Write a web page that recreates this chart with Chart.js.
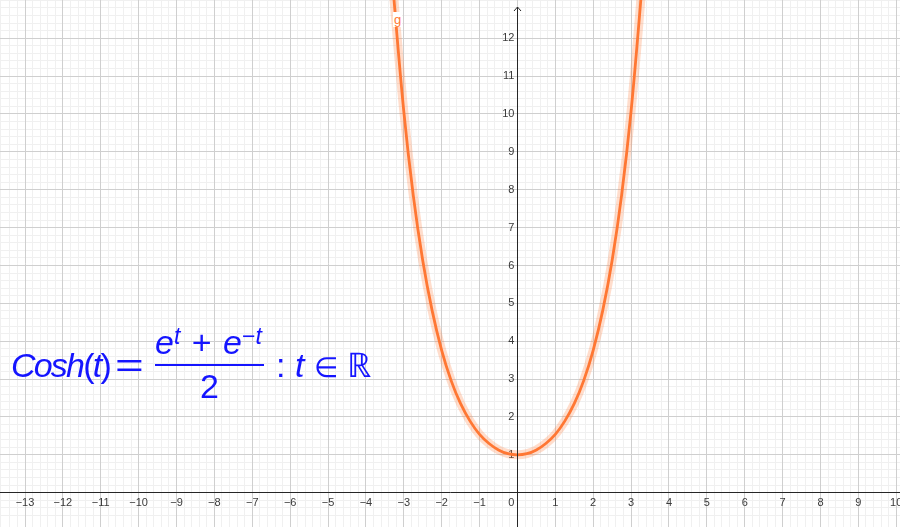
<!DOCTYPE html>
<html>
<head>
<meta charset="utf-8">
<title>Cosh(t)</title>
<script src="https://cdn.jsdelivr.net/npm/chart.js@4.4.1/dist/chart.umd.min.js"></script>
<style>
  html, body { margin: 0; padding: 0; background: #fff; }
  #wrap { position: relative; width: 900px; height: 527px; overflow: hidden; }
  #plot { position: absolute; left: 0; top: 0; }
  .fn-name { position: absolute; left: 393px; top: 12px; padding: 0 1px; line-height: 14px; background: #fff; font: 13px "Liberation Sans", Arial, sans-serif; color: #ff7733; }
  .tex { position: absolute; color: #1515ff; font-family: "Liberation Sans", Arial, sans-serif; font-size: 34px; line-height: 36px; white-space: nowrap; }
  .tex sup { font-size: 23px; line-height: 0; vertical-align: 10px; }
  .bar { position: absolute; background: #1515ff; height: 2px; }
</style>
</head>
<body>
<div id="wrap">
  <canvas id="plot" width="900" height="527"></canvas>
  <div class="fn-name">g</div>
  <div class="tex" style="left:11px; top:347px; letter-spacing:-1.8px;"><i>Cosh</i>(<i>t</i>)</div>
  <div class="tex" style="left:115px; top:347px; transform:scaleX(1.45); transform-origin:left;">=</div>
  <div class="tex" style="left:155px; top:324px; word-spacing:2px;"><i>e</i><sup><i>t</i></sup> + <i>e</i><sup>&minus;<i>t</i></sup></div>
  <div class="bar" style="left:155px; top:364px; width:109px;"></div>
  <div class="tex" style="left:200px; top:368px;">2</div>
  <div class="tex" style="left:276px; top:347px;">: <i>t</i> <span style="font-size:28px;">&isin;</span> &#8477;</div>
</div>
<script>
(function() {
  'use strict';

  // visible window of the graphics view
  const xMin = -13.66, xMax = 10.1;
  const yMin = -0.906, yMax = 13.01;

  // tick labels on the axes
  const xTickValues = [-13, -12, -11, -10, -9, -8, -7, -6, -5, -4, -3, -2, -1, 0, 1, 2, 3, 4, 5, 6, 7, 8, 9, 10];
  const yTickValues = [1, 2, 3, 4, 5, 6, 7, 8, 9, 10, 11, 12];

  const tValues = [-3.3, -3.25, -3, -2.75, -2.5, -2.25, -2, -1.75, -1.5, -1.25, -1, -0.75, -0.5, -0.25,
    0, 0.25, 0.5, 0.75, 1, 1.25, 1.5, 1.75, 2, 2.25, 2.5, 2.75, 3, 3.25, 3.3];
  const coshValues = [13.57, 12.92, 10.07, 7.85, 6.13, 4.8, 3.76, 2.96, 2.35, 1.89, 1.54, 1.3, 1.13, 1.03,
    1, 1.03, 1.13, 1.3, 1.54, 1.89, 2.35, 2.96, 3.76, 4.8, 6.13, 7.85, 10.07, 12.92, 13.57];

  const colors = {
    curve: '#ff7733',
    halo: 'rgba(255, 119, 51, 0.25)',
    axis: '#262626',
    major: '#cfcfcf',
    minor: '#f0f0f0',
    text: '#3a3a3a'
  };

  const points = tValues.map((t, i) => ({ x: t, y: coshValues[i] }));

  function fmt(v) {
    return v < 0 ? '\u2212' + Math.abs(v) : String(v);
  }

  // axes sit inside the plot, so they must not take any room or padding
  function noRoom(s) {
    if (s.isHorizontal()) s.height = 0; else s.width = 0;
    s.paddingLeft = s.paddingRight = s.paddingTop = s.paddingBottom = 0;
  }

  const tickFont = { family: '"Liberation Sans", Arial, sans-serif', size: 11 };

  // y axis with arrow head, drawn over the curve
  const yAxisPlugin = {
    id: 'yAxisLine',
    afterDatasetsDraw(chart) {
      const ctx = chart.ctx;
      const area = chart.chartArea;
      const x0 = Math.round(chart.scales.x.getPixelForValue(0)) + 0.5;
      const top = area.top + 7;
      ctx.save();
      ctx.strokeStyle = colors.axis;
      ctx.lineWidth = 1;
      ctx.beginPath();
      ctx.moveTo(x0, top);
      ctx.lineTo(x0, area.bottom);
      ctx.moveTo(x0 - 3.5, top + 4);
      ctx.lineTo(x0, top);
      ctx.lineTo(x0 + 3.5, top + 4);
      ctx.stroke();
      ctx.restore();
    }
  };

  new Chart(document.getElementById('plot'), {
    type: 'scatter',
    data: {
      datasets: [{
        label: 'g',
        data: points,
        showLine: true,
        borderColor: colors.curve,
        borderWidth: 2.8,
        pointRadius: 0,
        cubicInterpolationMode: 'monotone'
      }, {
        label: 'g halo',
        data: points,
        showLine: true,
        borderColor: colors.halo,
        borderWidth: 9,
        pointRadius: 0,
        cubicInterpolationMode: 'monotone'
      }]
    },
    options: {
      responsive: false,
      animation: false,
      layout: { padding: 0 },
      plugins: {
        legend: { display: false },
        tooltip: { enabled: false }
      },
      scales: {
        xMinor: {
          type: 'linear', axis: 'x', position: 'bottom', min: xMin, max: xMax,
          afterFit: noRoom,
          grid: { color: colors.minor, drawTicks: false, z: -2 },
          border: { display: false },
          ticks: { display: false, stepSize: 0.2 }
        },
        yMinor: {
          type: 'linear', axis: 'y', position: 'left', min: yMin, max: yMax,
          afterFit: noRoom,
          grid: { color: colors.minor, drawTicks: false, z: -2 },
          border: { display: false },
          ticks: { display: false, stepSize: 0.2 }
        },
        x: {
          type: 'linear', min: xMin, max: xMax,
          position: { y: 0 },
          afterFit: noRoom,
          afterBuildTicks(s) { s.ticks = xTickValues.map(v => ({ value: v })); },
          grid: { color: colors.major, drawTicks: false, z: -1 },
          border: { color: colors.axis, width: 1, z: 1 },
          ticks: {
            autoSkip: false, maxRotation: 0, padding: 4,
            color: colors.text, font: tickFont,
            callback: v => v === 0 ? '0    ' : fmt(v)
          }
        },
        y: {
          type: 'linear', min: yMin, max: yMax,
          position: { x: 0 },
          afterFit: noRoom,
          afterBuildTicks(s) { s.ticks = yTickValues.map(v => ({ value: v })); },
          grid: { color: colors.major, drawTicks: false, z: -1 },
          border: { display: false },
          ticks: {
            autoSkip: false, padding: 4,
            color: colors.text, font: tickFont,
            callback: v => fmt(v) + ' '
          }
        }
      }
    },
    plugins: [yAxisPlugin]
  });
})();
</script>
</body>
</html>
